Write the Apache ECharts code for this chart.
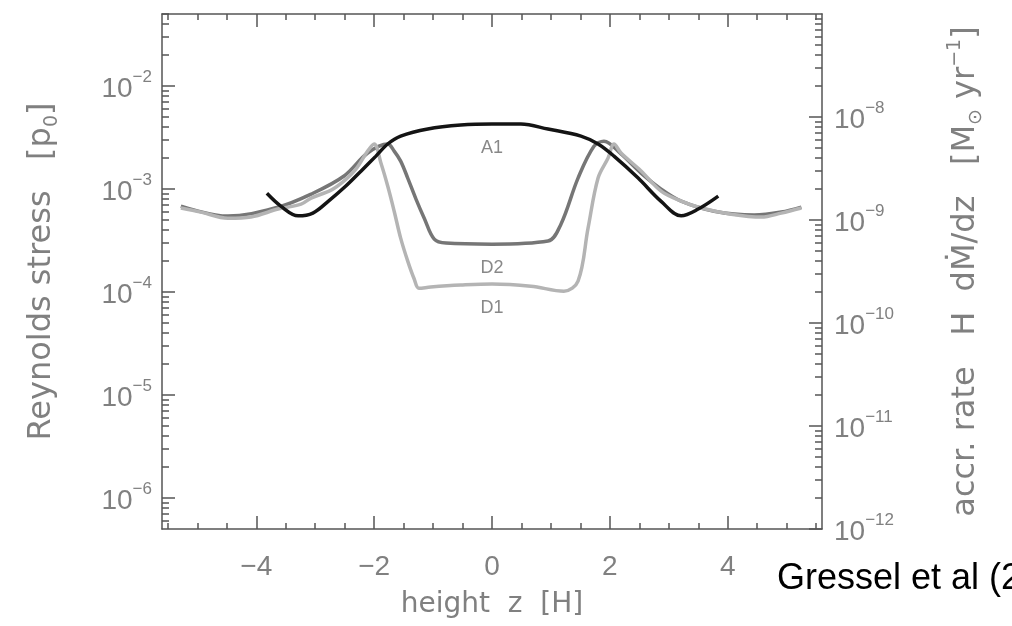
<!DOCTYPE html>
<html><head><meta charset="utf-8">
<script src="https://cdn.jsdelivr.net/npm/echarts@6/dist/echarts.min.js"></script>
<style>html,body{margin:0;padding:0;background:#fff}#c{width:1012px;height:626px}</style>
</head><body><div id="c"></div>
<script>
// height z [H] and Reynolds stress [p0] for each model
const zA1 = [-3.82,-3.58,-3.29,-3.04,-2.78,-2.48,-2.22,-1.97,-1.77,-1.55,-1.09,-0.53,0,0.49,0.95,1.51,1.80,2.07,2.48,2.87,3.21,3.50,3.84];
const rsA1 = [9.1e-4,6.8e-4,5.5e-4,5.85e-4,7.6e-4,1.07e-3,1.5e-3,2.09e-3,2.74e-3,3.27e-3,3.83e-3,4.18e-3,4.28e-3,4.28e-3,3.83e-3,3.27e-3,2.74e-3,2.09e-3,1.28e-3,7.6e-4,5.5e-4,6.4e-4,8.55e-4];

const zD1 = [-5.28,-4.94,-4.48,-4.09,-3.63,-3.24,-3.07,-2.73,-2.51,-2.31,-2.11,-2.0,-1.88,-1.77,-1.66,-1.55,-1.43,-1.32,-1.24,-1.04,-0.53,0,0.66,1.22,1.46,1.63,1.80,1.97,2.07,2.19,2.53,2.87,3.21,3.55,4.06,4.57,4.91,5.25];
const rsD1 = [6.55e-4,5.98e-4,5.22e-4,5.37e-4,6.4e-4,7.14e-4,8.18e-4,9.77e-4,1.2e-3,1.56e-3,2.34e-3,2.74e-3,1.75e-3,1.07e-3,6.1e-4,3.34e-4,2.0e-4,1.34e-4,1.09e-4,1.12e-4,1.17e-4,1.2e-4,1.14e-4,1.02e-4,1.28e-4,4.18e-4,1.28e-3,2.0e-3,2.74e-3,2.24e-3,1.5e-3,9.55e-4,7.64e-4,6.55e-4,5.71e-4,5.35e-4,5.85e-4,6.55e-4];

const zD2 = [-5.28,-4.48,-3.63,-3.07,-2.51,-2.11,-1.77,-1.66,-1.55,-1.43,-1.29,-1.15,-0.98,-0.78,0,0.95,1.17,1.46,1.73,1.90,2.19,2.53,2.87,3.21,3.77,4.45,4.91,5.25];
const rsD2 = [6.84e-4,5.47e-4,6.68e-4,8.93e-4,1.34e-3,2.24e-3,2.74e-3,2.34e-3,1.87e-3,1.28e-3,8.0e-4,5.22e-4,3.27e-4,2.99e-4,2.92e-4,3.13e-4,4.57e-4,1.28e-3,2.61e-3,2.92e-3,2.19e-3,1.43e-3,1.0e-3,7.64e-4,6.1e-4,5.6e-4,5.98e-4,6.68e-4];

const modelNames = ['D1','D2','A1'];
const xTickValues = [-4,-2,0,2,4];
const leftDecadeExps = [-6,-5,-4,-3,-2];
const rightDecadeExps = [-12,-11,-10,-9,-8];

const LOG = Math.log10;
function pairs(z, v){ return z.map((x,i)=>[x, LOG(v[i])]); }

const xMinor = [];
for (let k=-11;k<=11;k++){ if (k%4!==0) xMinor.push(k/2); }
function logMinor(nFrom, nTo, lo, hi){
  const out=[];
  for (let n=nFrom;n<=nTo;n++) for (let k=2;k<=9;k++){ const v=n+LOG(k); if(v>=lo&&v<=hi) out.push(v); }
  return out;
}
const leftMinor = logMinor(-7,-2,-6.3,-1.3);
const rightMinor = logMinor(-12,-8,-12,-7);

const AX = '#555';
const TXT = '#808080';
const axisLine = {show:true, onZero:false, lineStyle:{color:AX, width:1.5}};
const noLine = {show:false, onZero:false};
const tickStyle = {color:AX, width:1.5};
const rich10 = {
  b:{fontFamily:'Liberation Sans', fontSize:28, color:TXT, lineHeight:34, verticalAlign:'bottom'},
  s:{fontFamily:'Liberation Sans', fontSize:17, color:TXT, lineHeight:17, verticalAlign:'top'}
};
const fmtPow = v => '{b|10}{s|\u2212' + Math.round(-v) + '}';
const richTitle = {
  n:{fontFamily:'DejaVu Sans', fontSize:32, color:TXT, lineHeight:40, verticalAlign:'middle'},
  sub:{fontFamily:'DejaVu Sans', fontSize:19, color:TXT, lineHeight:19, verticalAlign:'bottom'},
  sup:{fontFamily:'DejaVu Sans', fontSize:19, color:TXT, lineHeight:19, verticalAlign:'top'}
};

function idx0(z){ return z.indexOf(0); }
const labelData = [
  {name:'A1', value:[0, LOG(rsA1[idx0(zA1)])]},
  {name:'D2', value:[0, LOG(rsD2[idx0(zD2)])]},
  {name:'D1', value:[0, LOG(rsD1[idx0(zD1)])]}
];

const chart = echarts.init(document.getElementById('c'), null, {renderer:'canvas'});
chart.setOption({
  animation:false,
  backgroundColor:'#fff',
  title:{text:'Gressel et al (2012)', left:772, top:556,
    textStyle:{fontFamily:'Liberation Sans', fontSize:36, fontWeight:'normal', color:'#000'}},
  grid:{left:162, right:190, top:14, bottom:97, containLabel:false, outerBoundsMode:'none'},
  xAxis:[
    {type:'value', min:-5.6, max:5.6, position:'bottom', axisLine:axisLine,
     axisTick:{show:true, inside:true, length:13, customValues:xTickValues, lineStyle:tickStyle},
     axisLabel:{show:true, customValues:xTickValues, margin:24, fontFamily:'Liberation Sans', fontSize:28, color:TXT,
       formatter:v => v<0 ? '\u2212'+(-v) : String(v)},
     splitLine:{show:false},
     name:'height  z  [H]', nameLocation:'middle', nameGap:62,
     nameTextStyle:{fontFamily:'DejaVu Sans', fontSize:28, color:TXT}},
    {type:'value', min:-5.6, max:5.6, position:'bottom', axisLine:noLine,
     axisTick:{show:true, inside:true, length:6, customValues:xMinor, lineStyle:tickStyle},
     axisLabel:{show:false}, splitLine:{show:false}},
    {type:'value', min:-5.6, max:5.6, position:'top', axisLine:axisLine,
     axisTick:{show:true, inside:true, length:13, customValues:xTickValues, lineStyle:tickStyle},
     axisLabel:{show:false}, splitLine:{show:false}},
    {type:'value', min:-5.6, max:5.6, position:'top', axisLine:noLine,
     axisTick:{show:true, inside:true, length:6, customValues:xMinor, lineStyle:tickStyle},
     axisLabel:{show:false}, splitLine:{show:false}}
  ],
  yAxis:[
    {type:'value', min:-6.3, max:-1.3, position:'left', axisLine:axisLine,
     axisTick:{show:true, inside:true, length:13, customValues:leftDecadeExps, lineStyle:tickStyle},
     axisLabel:{show:true, customValues:leftDecadeExps, margin:10, formatter:fmtPow, rich:rich10},
     splitLine:{show:false},
     name:'{n|Reynolds stress   [p}{sub|0}{n|]}', nameLocation:'middle', nameRotate:90, nameGap:100,
     nameTextStyle:{rich:richTitle}},
    {type:'value', min:-6.3, max:-1.3, position:'left', axisLine:noLine,
     axisTick:{show:true, inside:true, length:7, customValues:leftMinor, lineStyle:tickStyle},
     axisLabel:{show:false}, splitLine:{show:false}},
    {type:'value', min:-12, max:-7, interval:1, position:'right', axisLine:axisLine,
     axisTick:{show:true, inside:true, length:13, customValues:rightDecadeExps, lineStyle:tickStyle},
     axisLabel:{show:true, customValues:rightDecadeExps, margin:12, formatter:fmtPow, rich:rich10},
     splitLine:{show:false},
     name:'{n|accr. rate   H  d\u1E40/dz   [M}{sub|\u2299}{n| yr}{sup|\u22121}{n|]}', nameLocation:'middle', nameRotate:90, nameGap:124,
     nameTextStyle:{rich:richTitle}},
    {type:'value', min:-12, max:-7, position:'right', axisLine:noLine,
     axisTick:{show:true, inside:true, length:7, customValues:rightMinor, lineStyle:tickStyle},
     axisLabel:{show:false}, splitLine:{show:false}}
  ],
  series:[
    {name:modelNames[0], type:'line', data:pairs(zD1, rsD1), showSymbol:false, smooth:0.35,
     lineStyle:{color:'#b4b4b4', width:3.5}, z:3},
    {name:modelNames[1], type:'line', data:pairs(zD2, rsD2), showSymbol:false, smooth:0.35,
     lineStyle:{color:'#767676', width:3.5}, z:2},
    {name:modelNames[2], type:'line', data:pairs(zA1, rsA1), showSymbol:false, smooth:0.35,
     lineStyle:{color:'#141414', width:3.5}, z:4},
    {name:'labels', type:'scatter', data:labelData, symbolSize:2, itemStyle:{color:'rgba(0,0,0,0)'}, z:5,
     label:{show:true, position:'bottom', distance:14, formatter:p=>p.name,
       fontFamily:'Liberation Sans', fontSize:18, color:'#6a6a6a'}}
  ]
});
</script>
</body></html>
